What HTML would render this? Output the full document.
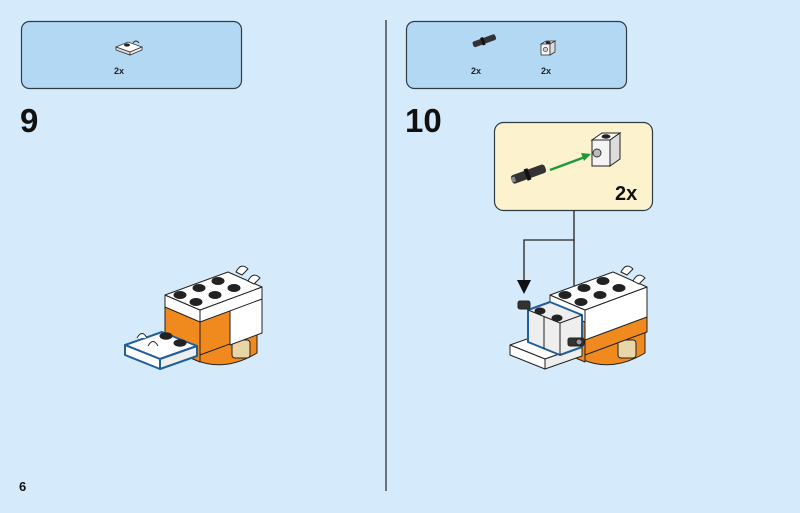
<!DOCTYPE html>
<html><head><meta charset="utf-8"><style>
html,body{margin:0;padding:0;background:#d5ebfb;}
svg{display:block;font-family:"Liberation Sans",sans-serif;}
</style></head><body>
<svg width="800" height="513" viewBox="0 0 800 513" xmlns="http://www.w3.org/2000/svg">
<rect width="800" height="513" fill="#d5ebfb"/>
<rect x="21.5" y="21.5" width="220" height="67" rx="8" fill="#b2d8f4" stroke="#2f3b45" stroke-width="1.2"/>
<rect x="406.5" y="21.5" width="220" height="67" rx="8" fill="#b2d8f4" stroke="#2f3b45" stroke-width="1.2"/>
<g>
<path d="M116 47 l12-5 l14 5 l-12 5 z" fill="#fff" stroke="#333" stroke-width="0.8"/>
<path d="M116 47 v3 l14 5 v-3 z" fill="#ddd" stroke="#333" stroke-width="0.8"/>
<path d="M130 52 v3 l12-5 v-3 z" fill="#eee" stroke="#333" stroke-width="0.8"/>
<ellipse cx="127" cy="45" rx="3" ry="1.6" fill="#222"/>
<path d="M133 43 q3 -4 6 0" fill="none" stroke="#333" stroke-width="1"/>
</g>
<text x="114" y="74" font-size="9" font-weight="bold" fill="#222">2x</text>
<g transform="translate(472,42) rotate(-20)">
<rect x="0" y="0" width="24" height="6" rx="2" fill="#333"/>
<rect x="9" y="-1" width="3" height="8" fill="#111"/>
</g>
<text x="471" y="74" font-size="9" font-weight="bold" fill="#222">2x</text>
<g>
<path d="M541 44 l5-3 h9 l-5 3 z" fill="#fff" stroke="#333" stroke-width="0.8"/>
<rect x="541" y="44" width="9" height="11" fill="#f4f4f4" stroke="#333" stroke-width="0.8"/>
<path d="M550 44 l5-3 v11 l-5 3 z" fill="#ddd" stroke="#333" stroke-width="0.8"/>
<ellipse cx="548" cy="42.5" rx="2.5" ry="1.2" fill="#222"/>
<circle cx="545.5" cy="49.5" r="2.2" fill="#ccc" stroke="#333" stroke-width="0.6"/>
</g>
<text x="541" y="74" font-size="9" font-weight="bold" fill="#222">2x</text>
<text x="20" y="132" font-size="33" font-weight="bold" fill="#111">9</text>
<text x="405" y="132" font-size="33" font-weight="bold" fill="#111">10</text>
<text x="19" y="491" font-size="13" font-weight="bold" fill="#111">6</text>
<line x1="386" y1="20" x2="386" y2="491" stroke="#222" stroke-width="1.2"/>
<rect x="494.5" y="122.5" width="158" height="88" rx="9" fill="#fcf2cd" stroke="#2f3b45" stroke-width="1.2"/>
<g transform="translate(510,176) rotate(-20)">
<rect x="0" y="0" width="36" height="9" rx="3" fill="#333"/>
<rect x="15" y="-1.5" width="4" height="12" fill="#111"/>
<rect x="0" y="2" width="4" height="5" fill="#888"/>
</g>
<line x1="550" y1="170" x2="585" y2="157" stroke="#1e9a3a" stroke-width="2.5"/>
<path d="M591 154 l-10 -1 l3 8 z" fill="#1e9a3a"/>
<g>
<path d="M592 140 l10-7 h18 l-10 7 z" fill="#fff" stroke="#222" stroke-width="1"/>
<rect x="592" y="140" width="18" height="26" fill="#f4f4f4" stroke="#222" stroke-width="1"/>
<path d="M610 140 l10-7 v26 l-10 7 z" fill="#dcdcdc" stroke="#222" stroke-width="1"/>
<ellipse cx="606" cy="136.5" rx="4.5" ry="2.2" fill="#222"/>
<circle cx="597" cy="153" r="4" fill="#bbb" stroke="#333"/>
</g>
<text x="615" y="200" font-size="20" font-weight="bold" fill="#111">2x</text>
<polyline points="574,211 574,240 524,240 524,284" fill="none" stroke="#222" stroke-width="1.3"/>
<line x1="574" y1="240" x2="574" y2="303" stroke="#222" stroke-width="1.3"/>
<path d="M517 280 h14 l-7 14 z" fill="#111"/>
<path d="M567 298 h14 l-7 14 z" fill="#111"/>

<!-- model 9 -->
<g stroke="#222" stroke-width="1" stroke-linejoin="round">
<path d="M172 345 q40 35 85 8 v-25 h-85 z" fill="#f08a1e"/>
<rect x="232" y="340" width="18" height="18" rx="3" fill="#e8d6a8"/>
<path d="M165 295 l35 15 v52 l-35-15 z" fill="#f08a1e"/>
<path d="M200 310 l62-23 v45 l-62 23 z" fill="#f08a1e"/>
<path d="M230 300 l32-12 v45 l-32 12 z" fill="#fff"/>
<path d="M165 295 l35 15 v12 l-35-15 z" fill="#fff"/>
<path d="M200 310 l62-23 v12 l-62 23 z" fill="#fff"/>
<path d="M165 295 l63-23 l34 15 l-62 23 z" fill="#fff"/>
<ellipse cx="180" cy="295" rx="6" ry="3.5" fill="#222"/>
<ellipse cx="199" cy="288" rx="6" ry="3.5" fill="#222"/>
<ellipse cx="218" cy="281" rx="6" ry="3.5" fill="#222"/>
<ellipse cx="196" cy="302" rx="6" ry="3.5" fill="#222"/>
<ellipse cx="215" cy="295" rx="6" ry="3.5" fill="#222"/>
<ellipse cx="234" cy="288" rx="6" ry="3.5" fill="#222"/>
<path d="M236 272 q5-10 12-3 l-6 6 z M248 281 q5-10 12-3 l-6 6 z" fill="#fff"/>
<path d="M125 345 l37-13 l35 14 l-37 13 z" fill="#fff" stroke="#1e5f9c" stroke-width="2"/>
<path d="M125 345 v10 l35 14 v-10 z" fill="#fff" stroke="#1e5f9c" stroke-width="2"/>
<path d="M160 359 l37-13 v10 l-37 13 z" fill="#eee" stroke="#1e5f9c" stroke-width="2"/>
<ellipse cx="166" cy="336" rx="6" ry="3.2" fill="#222"/>
<ellipse cx="180" cy="343" rx="6" ry="3.2" fill="#222"/>
<path d="M137 338 q5-9 10 0 M148 346 q5-9 10 0" fill="#fff"/>
</g>

<!-- model 10 -->
<g stroke="#222" stroke-width="1" stroke-linejoin="round">
<path d="M560 345 q40 35 85 8 v-25 h-85 z" fill="#f08a1e"/>
<rect x="618" y="340" width="18" height="18" rx="3" fill="#e8d6a8"/>
<path d="M550 295 l35 15 v52 l-35-15 z" fill="#f08a1e"/>
<path d="M585 310 l62-23 v45 l-62 23 z" fill="#f08a1e"/>
<path d="M550 295 l35 15 v12 l-35-15 z" fill="#fff"/>
<path d="M585 310 l62-23 v30 l-62 23 z" fill="#fff"/>
<path d="M550 295 l63-23 l34 15 l-62 23 z" fill="#fff"/>
<ellipse cx="565" cy="295" rx="6" ry="3.5" fill="#222"/>
<ellipse cx="584" cy="288" rx="6" ry="3.5" fill="#222"/>
<ellipse cx="603" cy="281" rx="6" ry="3.5" fill="#222"/>
<ellipse cx="581" cy="302" rx="6" ry="3.5" fill="#222"/>
<ellipse cx="600" cy="295" rx="6" ry="3.5" fill="#222"/>
<ellipse cx="619" cy="288" rx="6" ry="3.5" fill="#222"/>
<path d="M621 272 q5-10 12-3 l-6 6 z M633 281 q5-10 12-3 l-6 6 z" fill="#fff"/>
<path d="M510 345 l37-13 l35 14 l-37 13 z" fill="#fff"/>
<path d="M510 345 v10 l35 14 v-10 z" fill="#fff"/>
<path d="M545 359 l37-13 v10 l-37 13 z" fill="#eee"/>
<path d="M528 310 l22-8 l32 13 v32 l-22 8 l-32-13 z" fill="#eee" stroke="#1e5f9c" stroke-width="2"/>
<path d="M528 310 l32 13 l22-8" fill="none"/>
<line x1="560" y1="323" x2="560" y2="355"/>
<line x1="544" y1="317" x2="544" y2="349"/>
<ellipse cx="540" cy="311" rx="5" ry="3" fill="#222"/>
<ellipse cx="557" cy="318" rx="5" ry="3" fill="#222"/>
<rect x="518" y="301" width="12" height="8" rx="2" fill="#333"/>
<rect x="568" y="338" width="16" height="8" rx="2" fill="#333"/>
<circle cx="579" cy="342" r="3" fill="#999"/>
</g>
</svg>
</body></html>
